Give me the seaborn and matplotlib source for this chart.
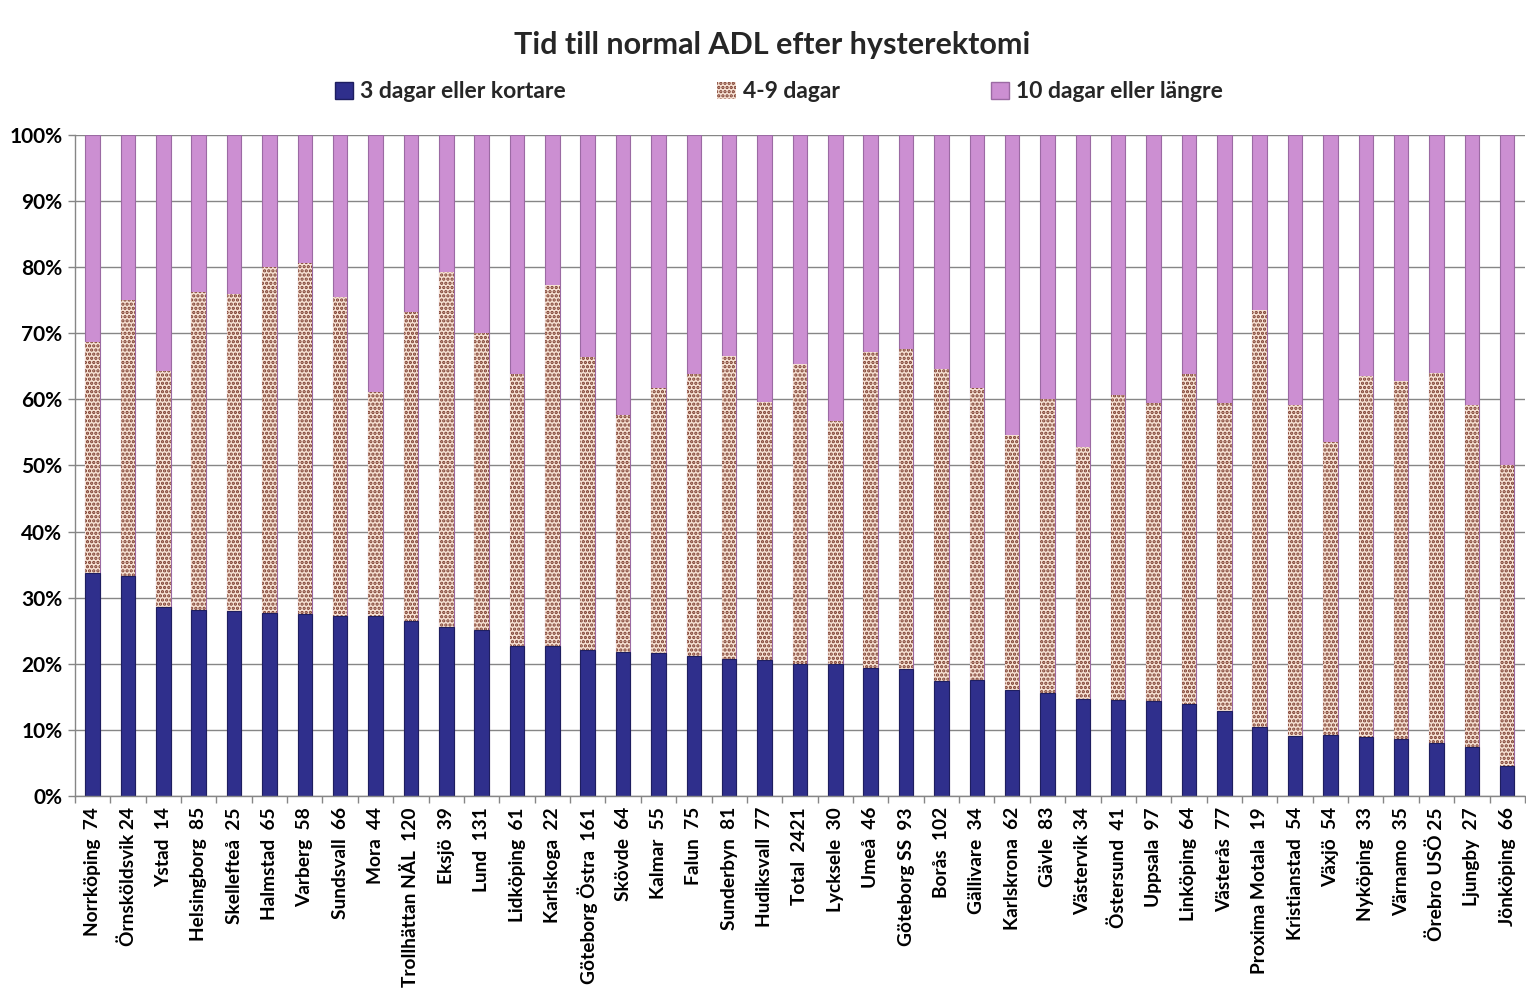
import numpy as np
import pandas as pd
import matplotlib
matplotlib.use("Agg")
import matplotlib.pyplot as plt
import seaborn as sns
from matplotlib.patches import Patch

# kliniker, sorterade efter andel "3 dagar eller kortare"
clinics = [
    "Norrköping  74", "Örnsköldsvik 24", "Ystad  14", "Helsingborg  85",
    "Skellefteå  25", "Halmstad  65", "Varberg  58", "Sundsvall  66",
    "Mora  44", "Trollhättan NÄL  120", "Eksjö  39", "Lund  131",
    "Lidköping  61", "Karlskoga  22", "Göteborg Östra  161", "Skövde  64",
    "Kalmar  55", "Falun  75", "Sunderbyn  81", "Hudiksvall  77",
    "Total  2421", "Lycksele  30", "Umeå  46", "Göteborg SS  93",
    "Borås  102", "Gällivare  34", "Karlskrona  62", "Gävle  83",
    "Västervik 34", "Östersund  41", "Uppsala  97", "Linköping  64",
    "Västerås  77", "Proxima Motala  19", "Kristianstad  54", "Växjö  54",
    "Nyköping  33", "Värnamo  35", "Örebro USÖ 25", "Ljungby  27",
    "Jönköping  66",
]

# andelar i procent
kort = [33.8, 33.3, 28.6, 28.1, 28.0, 27.7, 27.5, 27.2, 27.2, 26.5, 25.6,
        25.1, 22.7, 22.7, 22.1, 21.8, 21.6, 21.2, 20.8, 20.6, 20.0, 20.0,
        19.4, 19.2, 17.4, 17.6, 16.1, 15.6, 14.6, 14.5, 14.3, 13.9, 12.9,
        10.4, 9.1, 9.2, 9.0, 8.6, 8.0, 7.4, 4.5]
mellan = [34.9, 41.7, 35.7, 48.1, 48.0, 52.3, 53.2, 48.3, 33.9, 46.7, 53.6,
          44.9, 41.1, 54.6, 44.3, 35.8, 40.1, 42.6, 45.8, 39.0, 45.4, 36.7,
          47.7, 48.4, 47.2, 44.1, 38.5, 44.4, 38.2, 46.2, 45.2, 50.0, 46.6,
          63.1, 50.1, 44.3, 54.5, 54.2, 56.0, 51.8, 45.5]
lang = [31.3, 25.0, 35.7, 23.8, 24.0, 20.0, 19.3, 24.5, 38.9, 26.8, 20.8,
        30.0, 36.2, 22.7, 33.6, 42.4, 38.3, 36.2, 33.4, 40.4, 34.6, 43.3,
        32.9, 32.4, 35.4, 38.3, 45.4, 40.0, 47.2, 39.3, 40.5, 36.1, 40.5,
        26.5, 40.8, 46.5, 36.5, 37.2, 36.0, 40.8, 50.0]

series_labels = ["3 dagar eller kortare", "4-9 dagar", "10 dagar eller längre"]

NAVY = "#2F2F8C"
CREAM = "#F7E2D4"
BROWN = "#7A3A2C"
PURPLE = "#CC8FD2"
GRID = "#868686"

sns.set_theme(style="white")
plt.rcParams["font.family"] = ["Lato", "DejaVu Sans"]
plt.rcParams["font.weight"] = "bold"
plt.rcParams["hatch.linewidth"] = 1.6

df = pd.DataFrame({"klinik": clinics, "kort": kort, "mellan": mellan, "lang": lang})
df["upp_mellan"] = df["kort"] + df["mellan"]
df["upp_lang"] = df["upp_mellan"] + df["lang"]

fig = plt.figure(figsize=(15.26, 9.97), dpi=100)
ax = fig.add_axes([0.0491, 0.2016, 0.9502, 0.6630])

ax.set_axisbelow(True)
ax.yaxis.grid(True, color=GRID, linewidth=1)

bw = 0.41
sns.barplot(data=df, x="klinik", y="upp_lang", color=PURPLE, saturation=1,
            width=bw, errorbar=None, edgecolor="#9B6AA3", linewidth=0.8, ax=ax)
sns.barplot(data=df, x="klinik", y="upp_mellan", color=CREAM, saturation=1,
            width=bw, errorbar=None, edgecolor=BROWN, linewidth=0, hatch="....", ax=ax)
sns.barplot(data=df, x="klinik", y="kort", color=NAVY, saturation=1,
            width=bw, errorbar=None, edgecolor="#1E1E60", linewidth=0.8, ax=ax)

ax.set_xlim(-0.5, len(clinics) - 0.5)
ax.set_ylim(0, 100)
ax.set_yticks(range(0, 101, 10))
ax.set_yticklabels([f"{v}%" for v in range(0, 101, 10)], fontsize=15, fontweight="bold")
ax.set_xticks(range(len(clinics)))
ax.set_xticklabels(clinics, rotation=90, fontsize=13.8, fontweight="bold")
ax.set_xticks(np.arange(-0.5, len(clinics), 1), minor=True)
ax.tick_params(axis="x", which="major", length=0, pad=8, colors="black")
ax.tick_params(axis="x", which="minor", bottom=True, length=5, width=1, color=GRID)
ax.tick_params(axis="y", left=True, length=5, width=1, color=GRID, labelcolor="black", pad=4)
ax.set_xlabel("")
ax.set_ylabel("")

for side in ["top", "right"]:
    ax.spines[side].set_visible(False)
for side in ["left", "bottom"]:
    ax.spines[side].set_color(GRID)
    ax.spines[side].set_linewidth(1)

fig.text(0.506, 1 - 45 / 997, "Tid till normal ADL efter hysterektomi",
         ha="center", va="center", fontsize=22, fontweight="bold")

handles = [
    Patch(facecolor=NAVY, edgecolor="#1E1E60"),
    Patch(facecolor=CREAM, edgecolor=BROWN, hatch="....", linewidth=0),
    Patch(facecolor=PURPLE, edgecolor="#9B6AA3"),
]
fig.legend(handles, series_labels, loc="center", bbox_to_anchor=(0.5105, 1 - 92 / 997),
           ncol=3, frameon=False, prop={"size": 16.5, "weight": "bold"},
           handlelength=0.8, handleheight=0.8, handletextpad=0.3, columnspacing=6.6)

fig.savefig("out.png", dpi=100)
